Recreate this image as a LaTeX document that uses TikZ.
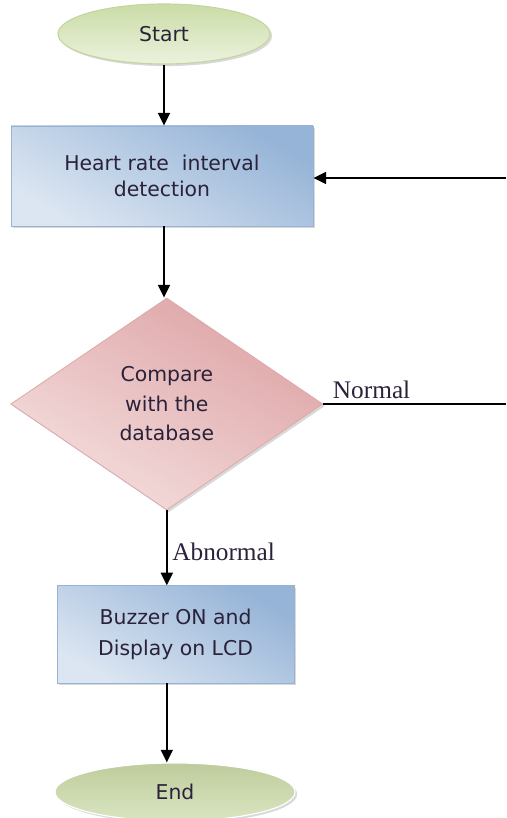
\documentclass[tikz,border=0pt]{standalone}
\usepackage{fontspec}
\setmainfont{Liberation Serif}
\setsansfont{DejaVu Sans}
\usetikzlibrary{positioning,shapes.geometric,arrows.meta,shadows}
\tikzset{>={Triangle[length=9pt,width=8.5pt]}}

\definecolor{termtop}{RGB}{202,220,166}
\definecolor{termbot}{RGB}{236,242,222}
\definecolor{termline}{RGB}{196,214,160}
\definecolor{endtop}{RGB}{190,204,156}
\definecolor{endbot}{RGB}{218,229,193}
\definecolor{boxtop}{RGB}{150,180,215}
\definecolor{boxbot}{RGB}{220,230,242}
\definecolor{boxline}{RGB}{150,178,212}
\definecolor{dectop}{RGB}{222,164,166}
\definecolor{decbot}{RGB}{244,222,222}
\definecolor{decline}{RGB}{222,170,172}
\definecolor{textc}{RGB}{42,34,58}

\begin{document}
\begin{tikzpicture}[
  flow/.style={line width=1.2pt,->},
  txt/.style={font=\sffamily\fontsize{14.5}{20}\selectfont,text=textc,align=center,inner sep=0pt},
  shade/.style={drop shadow={shadow xshift=1.5pt,shadow yshift=-1.5pt,opacity=0.3}},
  terminal/.style={ellipse,txt,draw=termline,line width=0.8pt,top color=termtop,bottom color=termbot,shade},
  process/.style={rectangle,txt,draw=boxline,line width=0.6pt,top color=boxtop,bottom color=boxbot,shading angle=-30,shade},
  decision/.style={diamond,txt,draw=decline,line width=0.6pt,top color=dectop,bottom color=decbot,shading angle=-30,shade},
  tag/.style={font=\fontsize{18}{20}\selectfont,text=textc}
]
\useasboundingbox (0,0) rectangle (12.65,-20.45);

% boxes of the chart
\node[terminal,minimum width=5.3cm,minimum height=1.5cm] (start) at (4.1,-0.85) {Start};
\node[process,minimum width=7.55cm,minimum height=2.5cm] (detect) at (4.05,-4.4) {Heart rate\ \ interval\\[-2pt] detection};
\node[decision,minimum width=7.8cm,minimum height=5.3cm] (compare) at (4.17,-10.1) {Compare\\[1pt] with the\\[1pt] database};
\node[process,minimum width=5.93cm,minimum height=2.43cm] (buzzer) at (4.39,-15.86) {Buzzer ON and\\[2pt] Display on LCD};
\node[terminal,draw=white,top color=endtop,bottom color=endbot,minimum width=6cm,minimum height=1.45cm] (stop) at (4.375,-19.8) {End};

% loose ends on the right
\coordinate (back) at (12.65,-4.45);
\coordinate (out) at (12.65,-10.1);

% connectors
\draw[flow] (start.south) -- (start.south |- detect.north);
\draw[flow] (detect.south -| start.south) -- (start.south |- compare.north);
\draw[flow] (back) -- (back -| detect.east);
\draw[line width=1.2pt] (compare.east) -- node[tag,above right,at start,xshift=3pt] {Normal} (out);
\draw[flow] (compare.south) -- node[tag,right,pos=0.55] {Abnormal} (compare.south |- buzzer.north);
\draw[flow] (buzzer.south -| compare.south) -- (compare.south |- stop.north);
\end{tikzpicture}
\end{document}
